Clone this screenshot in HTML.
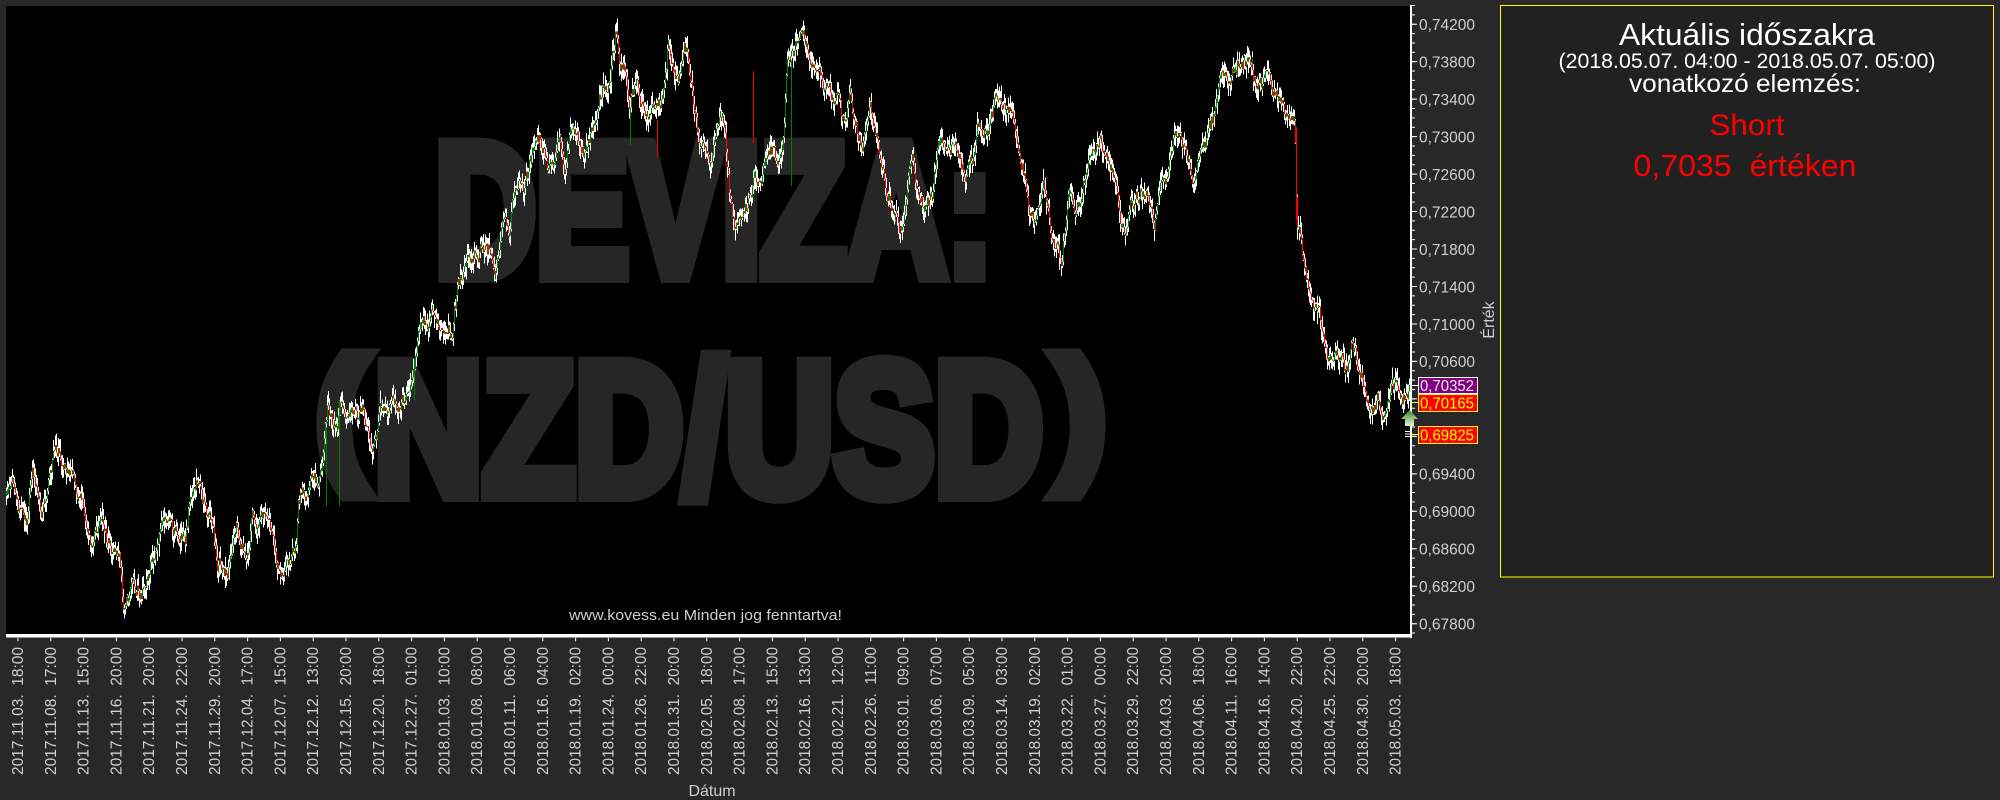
<!DOCTYPE html>
<html>
<head>
<meta charset="utf-8">
<style>
html,body{margin:0;padding:0;background:#282828;overflow:hidden;}
svg{display:block;}
text{font-family:"Liberation Sans",Arial,sans-serif;white-space:pre;}
.xl{font-size:16px;fill:#d0d0d0;}
.yl{font-size:16px;fill:#d0d0d0;}
</style>
</head>
<body>
<svg id="c" width="2000" height="800" viewBox="0 0 2000 800" xmlns="http://www.w3.org/2000/svg">
<defs>
<clipPath id="plot"><rect x="6" y="6" width="1404" height="628"/></clipPath>
<linearGradient id="ag" x1="0" y1="0" x2="0" y2="1">
<stop offset="0" stop-color="#3f7f3a"/>
<stop offset="0.5" stop-color="#8cbf7c"/>
<stop offset="1" stop-color="#e4f2dc"/>
</linearGradient>
</defs>
<rect x="0" y="0" width="2000" height="800" fill="#282828"/>
<rect x="6" y="6" width="1404" height="628" fill="#000"/>

<!-- watermark -->
<g fill="#262626" stroke="#262626" stroke-width="16" font-weight="bold">
<text x="435" y="275" font-size="188" textLength="558" lengthAdjust="spacingAndGlyphs">DEVIZA:</text>
<text x="317" y="463" font-size="147">(</text>
<text x="374" y="494" font-size="188" textLength="669" lengthAdjust="spacingAndGlyphs">NZD/USD</text>
<text x="1056" y="463" font-size="147">)</text>
</g>

<text x="569" y="620" font-size="15" fill="#cfcfcf" textLength="273" lengthAdjust="spacingAndGlyphs">www.kovess.eu Minden jog fenntartva!</text>

<g id="candles" clip-path="url(#plot)"></g>

<!-- axes -->
<rect x="6" y="634" width="1406" height="3.5" fill="#fff"/>
<rect x="1410" y="5" width="2" height="633" fill="#fff"/>
<path d="M1413.5 4.97V634" stroke="#fff" stroke-width="3" stroke-dasharray="1 8.367" fill="none"/>
<path d="M1414.5 23.7V634" stroke="#fff" stroke-width="5" stroke-dasharray="1 36.47" fill="none"/>
<path d="M17.5 639.5H1412" stroke="#fff" stroke-width="3.5" stroke-dasharray="1 31.8" fill="none"/>

<!-- y labels -->
<g class="yl">
<text x="1419" y="30.0" textLength="56" lengthAdjust="spacingAndGlyphs">0,74200</text>
<text x="1419" y="67.5" textLength="56" lengthAdjust="spacingAndGlyphs">0,73800</text>
<text x="1419" y="104.9" textLength="56" lengthAdjust="spacingAndGlyphs">0,73400</text>
<text x="1419" y="142.4" textLength="56" lengthAdjust="spacingAndGlyphs">0,73000</text>
<text x="1419" y="179.9" textLength="56" lengthAdjust="spacingAndGlyphs">0,72600</text>
<text x="1419" y="217.4" textLength="56" lengthAdjust="spacingAndGlyphs">0,72200</text>
<text x="1419" y="254.8" textLength="56" lengthAdjust="spacingAndGlyphs">0,71800</text>
<text x="1419" y="292.3" textLength="56" lengthAdjust="spacingAndGlyphs">0,71400</text>
<text x="1419" y="329.8" textLength="56" lengthAdjust="spacingAndGlyphs">0,71000</text>
<text x="1419" y="367.2" textLength="56" lengthAdjust="spacingAndGlyphs">0,70600</text>
<text x="1419" y="479.6" textLength="56" lengthAdjust="spacingAndGlyphs">0,69400</text>
<text x="1419" y="517.1" textLength="56" lengthAdjust="spacingAndGlyphs">0,69000</text>
<text x="1419" y="554.6" textLength="56" lengthAdjust="spacingAndGlyphs">0,68600</text>
<text x="1419" y="592.1" textLength="56" lengthAdjust="spacingAndGlyphs">0,68200</text>
<text x="1419" y="629.5" textLength="56" lengthAdjust="spacingAndGlyphs">0,67800</text>
</g>

<!-- price markers -->
<path d="M1412 385.5H1418" stroke="#ffffff" stroke-width="1"/>
<path d="M1412 402.5H1418M1412 434.5H1418" stroke="#ffff66" stroke-width="1"/>
<rect x="1418.5" y="377.5" width="59" height="16" fill="#800080" stroke="#ffffff" stroke-width="1"/>
<text x="1420" y="391" font-size="16" fill="#e8e8e8" textLength="54" lengthAdjust="spacingAndGlyphs">0,70352</text>
<rect x="1418.5" y="394.5" width="59" height="17" fill="#ff0000" stroke="#ffff00" stroke-width="1"/>
<text x="1420" y="408.5" font-size="16" fill="#ffff00" textLength="54" lengthAdjust="spacingAndGlyphs">0,70165</text>
<rect x="1418.5" y="426.5" width="59" height="17" fill="#ff0000" stroke="#ffff00" stroke-width="1"/>
<text x="1420" y="440.5" font-size="16" fill="#ffff00" textLength="54" lengthAdjust="spacingAndGlyphs">0,69825</text>
<polygon points="1409.5,410 1418,419 1414,419 1414,426 1405,426 1405,419 1401,419" fill="url(#ag)"/>
<path d="M1405 431.5H1412M1405 434H1412M1405 436.5H1412" stroke="#ffffff" stroke-width="1"/>

<!-- axis titles -->
<text transform="translate(1494,320) rotate(-90)" text-anchor="middle" font-size="16" fill="#d0d0d0">Érték</text>
<text x="712" y="796" text-anchor="middle" font-size="16" fill="#d0d0d0">Dátum</text>

<!-- x labels -->
<g class="xl" text-anchor="end">
<text transform="translate(23,647) rotate(-90)" textLength="128" lengthAdjust="spacingAndGlyphs">2017.11.03.  18:00</text>
<text transform="translate(55.8,647) rotate(-90)" textLength="128" lengthAdjust="spacingAndGlyphs">2017.11.08.  17:00</text>
<text transform="translate(88.6,647) rotate(-90)" textLength="128" lengthAdjust="spacingAndGlyphs">2017.11.13.  15:00</text>
<text transform="translate(121.4,647) rotate(-90)" textLength="128" lengthAdjust="spacingAndGlyphs">2017.11.16.  20:00</text>
<text transform="translate(154.2,647) rotate(-90)" textLength="128" lengthAdjust="spacingAndGlyphs">2017.11.21.  20:00</text>
<text transform="translate(187,647) rotate(-90)" textLength="128" lengthAdjust="spacingAndGlyphs">2017.11.24.  22:00</text>
<text transform="translate(219.8,647) rotate(-90)" textLength="128" lengthAdjust="spacingAndGlyphs">2017.11.29.  20:00</text>
<text transform="translate(252.6,647) rotate(-90)" textLength="128" lengthAdjust="spacingAndGlyphs">2017.12.04.  17:00</text>
<text transform="translate(285.4,647) rotate(-90)" textLength="128" lengthAdjust="spacingAndGlyphs">2017.12.07.  15:00</text>
<text transform="translate(318.2,647) rotate(-90)" textLength="128" lengthAdjust="spacingAndGlyphs">2017.12.12.  13:00</text>
<text transform="translate(351,647) rotate(-90)" textLength="128" lengthAdjust="spacingAndGlyphs">2017.12.15.  20:00</text>
<text transform="translate(383.8,647) rotate(-90)" textLength="128" lengthAdjust="spacingAndGlyphs">2017.12.20.  18:00</text>
<text transform="translate(416.6,647) rotate(-90)" textLength="128" lengthAdjust="spacingAndGlyphs">2017.12.27.  01:00</text>
<text transform="translate(449.4,647) rotate(-90)" textLength="128" lengthAdjust="spacingAndGlyphs">2018.01.03.  10:00</text>
<text transform="translate(482.2,647) rotate(-90)" textLength="128" lengthAdjust="spacingAndGlyphs">2018.01.08.  08:00</text>
<text transform="translate(515,647) rotate(-90)" textLength="128" lengthAdjust="spacingAndGlyphs">2018.01.11.  06:00</text>
<text transform="translate(547.8,647) rotate(-90)" textLength="128" lengthAdjust="spacingAndGlyphs">2018.01.16.  04:00</text>
<text transform="translate(580.6,647) rotate(-90)" textLength="128" lengthAdjust="spacingAndGlyphs">2018.01.19.  02:00</text>
<text transform="translate(613.4,647) rotate(-90)" textLength="128" lengthAdjust="spacingAndGlyphs">2018.01.24.  00:00</text>
<text transform="translate(646.2,647) rotate(-90)" textLength="128" lengthAdjust="spacingAndGlyphs">2018.01.26.  22:00</text>
<text transform="translate(679,647) rotate(-90)" textLength="128" lengthAdjust="spacingAndGlyphs">2018.01.31.  20:00</text>
<text transform="translate(711.8,647) rotate(-90)" textLength="128" lengthAdjust="spacingAndGlyphs">2018.02.05.  18:00</text>
<text transform="translate(744.6,647) rotate(-90)" textLength="128" lengthAdjust="spacingAndGlyphs">2018.02.08.  17:00</text>
<text transform="translate(777.4,647) rotate(-90)" textLength="128" lengthAdjust="spacingAndGlyphs">2018.02.13.  15:00</text>
<text transform="translate(810.2,647) rotate(-90)" textLength="128" lengthAdjust="spacingAndGlyphs">2018.02.16.  13:00</text>
<text transform="translate(843,647) rotate(-90)" textLength="128" lengthAdjust="spacingAndGlyphs">2018.02.21.  12:00</text>
<text transform="translate(875.8,647) rotate(-90)" textLength="128" lengthAdjust="spacingAndGlyphs">2018.02.26.  11:00</text>
<text transform="translate(908.6,647) rotate(-90)" textLength="128" lengthAdjust="spacingAndGlyphs">2018.03.01.  09:00</text>
<text transform="translate(941.4,647) rotate(-90)" textLength="128" lengthAdjust="spacingAndGlyphs">2018.03.06.  07:00</text>
<text transform="translate(974.2,647) rotate(-90)" textLength="128" lengthAdjust="spacingAndGlyphs">2018.03.09.  05:00</text>
<text transform="translate(1007,647) rotate(-90)" textLength="128" lengthAdjust="spacingAndGlyphs">2018.03.14.  03:00</text>
<text transform="translate(1039.8,647) rotate(-90)" textLength="128" lengthAdjust="spacingAndGlyphs">2018.03.19.  02:00</text>
<text transform="translate(1072.6,647) rotate(-90)" textLength="128" lengthAdjust="spacingAndGlyphs">2018.03.22.  01:00</text>
<text transform="translate(1105.4,647) rotate(-90)" textLength="128" lengthAdjust="spacingAndGlyphs">2018.03.27.  00:00</text>
<text transform="translate(1138.2,647) rotate(-90)" textLength="128" lengthAdjust="spacingAndGlyphs">2018.03.29.  22:00</text>
<text transform="translate(1171,647) rotate(-90)" textLength="128" lengthAdjust="spacingAndGlyphs">2018.04.03.  20:00</text>
<text transform="translate(1203.8,647) rotate(-90)" textLength="128" lengthAdjust="spacingAndGlyphs">2018.04.06.  18:00</text>
<text transform="translate(1236.6,647) rotate(-90)" textLength="128" lengthAdjust="spacingAndGlyphs">2018.04.11.  16:00</text>
<text transform="translate(1269.4,647) rotate(-90)" textLength="128" lengthAdjust="spacingAndGlyphs">2018.04.16.  14:00</text>
<text transform="translate(1302.2,647) rotate(-90)" textLength="128" lengthAdjust="spacingAndGlyphs">2018.04.20.  22:00</text>
<text transform="translate(1335,647) rotate(-90)" textLength="128" lengthAdjust="spacingAndGlyphs">2018.04.25.  22:00</text>
<text transform="translate(1367.8,647) rotate(-90)" textLength="128" lengthAdjust="spacingAndGlyphs">2018.04.30.  20:00</text>
<text transform="translate(1400.6,647) rotate(-90)" textLength="128" lengthAdjust="spacingAndGlyphs">2018.05.03.  18:00</text>
</g>

<!-- info panel -->
<rect x="1500.5" y="5.5" width="493" height="571.5" fill="#212121" stroke="#ffff00" stroke-width="1"/>
<text x="1747" y="45" text-anchor="middle" font-size="31" fill="#ffffff" textLength="256" lengthAdjust="spacingAndGlyphs">Aktuális időszakra</text>
<text x="1747" y="68" text-anchor="middle" font-size="21" fill="#ffffff" textLength="377" lengthAdjust="spacingAndGlyphs">(2018.05.07. 04:00 - 2018.05.07. 05:00)</text>
<text x="1745" y="92" text-anchor="middle" font-size="25" fill="#ffffff" textLength="232" lengthAdjust="spacingAndGlyphs">vonatkozó elemzés:</text>
<text x="1747" y="135" text-anchor="middle" font-size="30" fill="#ff0000" textLength="75" lengthAdjust="spacingAndGlyphs">Short</text>
<text x="1745" y="176" text-anchor="middle" font-size="31" fill="#ff0000" textLength="223" lengthAdjust="spacingAndGlyphs">0,7035  értéken</text>
</svg>

<script>
(function(){
var T=[[6,496],[13,478],[18,506],[23,522],[28,514],[32,469],[37,494],[42,510],[47,498],[53,457],[58,449],[63,469],[70,473],[77,486],[83,510],[90,543],[97,531],[102,514],[107,539],[113,551],[120,555],[123,604],[128,600],[133,580],[140,596],[145,584],[150,571],[157,547],[160,527],[167,520],[173,531],[180,535],[185,543],[190,502],[197,482],[203,498],[208,514],[213,527],[217,563],[222,567],[227,571],[233,543],[237,518],[240,547],[247,559],[252,518],[257,531],[263,510],[268,522],[273,535],[277,563],[282,571],[287,567],[292,559],[297,543],[298,506],[302,490],[307,498],[312,473],[317,478],[322,473],[325,429],[328,404],[333,420],[337,429],[342,400],[347,420],[352,404],[357,416],[362,408],[367,433],[372,445],[377,441],[380,408],[387,416],[393,404],[400,408],[405,400],[410,384],[415,359],[418,335],[423,318],[428,327],[432,306],[437,322],[442,335],[447,322],[452,335],[455,306],[460,278],[465,273],[468,261],
[470,257],[480,253],[490,249],[495,278],[500,237],[505,220],[510,237],[513,204],[518,176],[523,196],[528,176],[533,151],[538,135],[543,147],[548,163],[553,167],[560,135],[565,171],[570,135],[575,131],[580,147],[585,155],[590,135],[595,127],[600,98],[605,86],[610,78],[613,49],[617,25],[620,73],[623,61],[627,82],[630,110],[633,94],[637,78],[640,98],[645,106],[650,118],[655,110],[660,102],[665,82],[668,49],[673,73],[678,86],[683,53],[687,45],[690,69],[693,94],[697,131],[700,139],[705,147],[710,159],[715,135],[720,110],[725,127],[728,171],[732,212],[735,229],[740,212],[745,216],[750,192],[755,176],[760,188],[765,171],[768,155],[773,151],[777,159],[783,147],[787,65],[792,53],[797,45],[802,25],[805,41],[810,57],[815,61],[818,73],[823,82],[828,86],[833,94],[838,98],[842,118],[847,114],[850,94],[853,114],[857,131],[862,143],[867,122],[870,106],[873,127],[878,143],[883,171],[887,192],[892,204],[897,216],[900,233],[903,224],[907,196],[910,171],[913,163],[918,196],[923,208],[928,204],[933,196],[938,143],
[940,139],[947,151],[953,151],[958,147],[962,171],[967,171],[972,159],[975,147],[978,127],[983,139],[988,131],[993,110],[997,98],[1002,106],[1007,110],[1012,114],[1015,122],[1018,147],[1022,167],[1027,184],[1030,212],[1035,220],[1040,212],[1043,188],[1047,204],[1050,220],[1053,245],[1058,253],[1062,265],[1065,229],[1068,192],[1072,188],[1075,212],[1080,204],[1085,180],[1088,171],[1093,151],[1098,141],[1103,151],[1108,163],[1113,171],[1117,188],[1120,220],[1125,233],[1130,208],[1135,200],[1140,196],[1145,200],[1150,204],[1155,220],[1158,200],[1162,180],[1167,176],[1170,155],[1175,135],[1178,127],[1182,143],[1185,151],[1188,163],[1193,180],[1197,171],[1200,159],[1205,143],[1210,127],[1213,118],[1218,90],[1222,73],[1227,78],[1230,82],[1233,73],[1238,65],[1243,67],[1248,61],[1252,57],[1253,90],[1257,86],[1260,82],[1265,82],[1268,73],[1272,94],[1275,98],[1280,102],[1285,110],[1288,118],[1292,114],[1295,118],[1297,222],[1300,229],[1303,253],[1307,273],[1310,294],[1315,306],[1320,318],[1323,339],[1327,355],[1332,359],[1337,355],[1342,359],[1347,371],[1352,343],[1355,351],[1358,371],[1363,384],[1368,404],[1373,416],[1378,400],[1382,412],[1387,408],[1392,388],[1397,380],[1402,404],[1407,392],[1410,388]];
var s=987654321;
function r(){s^=s<<13;s^=s>>>17;s^=s<<5;return ((s>>>0)%100000)/100000;}
var j=1;
function f(x){
  while(j<T.length-1 && x>T[j][0]) j++;
  var a=T[j-1],b=T[j];
  var t=(x-a[0])/(b[0]-a[0]); if(t<0)t=0; if(t>1)t=1;
  return a[1]+t*(b[1]-a[1]);
}
var w='',rd='',gr='';
var n=0,prev=f(6);
for(var x=6;x<=1409.5;x+=0.5){
  n=0.7*n+(r()-0.5)*11;
  var c=f(x)+n;
  var o=prev;
  var tp=Math.min(o,c),bt=Math.max(o,c);
  var hi=tp-Math.pow(r(),1.8)*12-0.5;
  var lo=bt+Math.pow(r(),1.8)*12+0.5;
  var px=Math.floor(x)+0.5;
  w+='M'+px+' '+hi.toFixed(1)+'V'+lo.toFixed(1);
  if(bt-tp<1)bt=tp+1;
  var seg='M'+px+' '+tp.toFixed(1)+'V'+bt.toFixed(1);
  if(c>o) rd+=seg; else gr+=seg;
  prev=c;
}
gr+='M326.5 429V506M339.5 400V506M414.5 359V400M791.5 61V186M630.5 113V145';
rd+='M753.5 71V143M1296.5 127V220M657.5 120V157';
var ns='http://www.w3.org/2000/svg';
var g=document.getElementById('candles');
function add(d,col){var p=document.createElementNS(ns,'path');p.setAttribute('d',d);p.setAttribute('stroke',col);p.setAttribute('stroke-width','1');p.setAttribute('fill','none');p.setAttribute('shape-rendering','crispEdges');g.appendChild(p);}
add(w,'#ffffff');add(rd,'#ff0000');add(gr,'#008000');
})();
</script>
</body>
</html>
